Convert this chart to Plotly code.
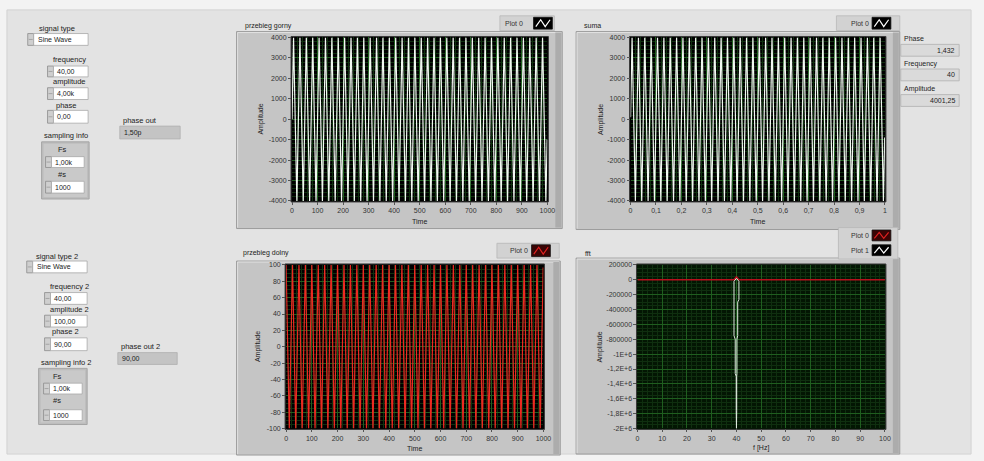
import plotly.graph_objects as go

# ---------------- data ----------------
# upper waveform "przebieg gorny" (turning points of the 40 Hz sine, sample index / amplitude)
top_time = [0, 6, 19, 31, 44, 56, 69, 81, 94, 106, 119, 131, 144, 156, 169, 181, 194,
            206, 219, 231, 244, 256, 269, 281, 294, 306, 319, 331, 344, 356, 369, 381, 394,
            406, 419, 431, 444, 456, 469, 481, 494, 506, 519, 531, 544, 556, 569, 581, 594,
            606, 619, 631, 644, 656, 669, 681, 694, 706, 719, 731, 744, 756, 769, 781, 794,
            806, 819, 831, 844, 856, 869, 881, 894, 906, 919, 931, 944, 956, 969, 981, 994, 999]
top_amplitude = [0,
                 4000, -4000, 4000, -4000, 4000, -4000, 4000, -4000, 4000, -4000,
                 4000, -4000, 4000, -4000, 4000, -4000, 4000, -4000, 4000, -4000,
                 4000, -4000, 4000, -4000, 4000, -4000, 4000, -4000, 4000, -4000,
                 4000, -4000, 4000, -4000, 4000, -4000, 4000, -4000, 4000, -4000,
                 4000, -4000, 4000, -4000, 4000, -4000, 4000, -4000, 4000, -4000,
                 4000, -4000, 4000, -4000, 4000, -4000, 4000, -4000, 4000, -4000,
                 4000, -4000, 4000, -4000, 4000, -4000, 4000, -4000, 4000, -4000,
                 4000, -4000, 4000, -4000, 4000, -4000, 4000, -4000, 4000, -4000,
                 -995]

# "suma" (time in seconds)
suma_time = [0, 0.006, 0.019, 0.031, 0.044, 0.056, 0.069, 0.081, 0.094, 0.106, 0.119, 0.131,
             0.144, 0.156, 0.169, 0.181, 0.194, 0.206, 0.219, 0.231, 0.244, 0.256, 0.269,
             0.281, 0.294, 0.306, 0.319, 0.331, 0.344, 0.356, 0.369, 0.381, 0.394, 0.406,
             0.419, 0.431, 0.444, 0.456, 0.469, 0.481, 0.494, 0.506, 0.519, 0.531, 0.544,
             0.556, 0.569, 0.581, 0.594, 0.606, 0.619, 0.631, 0.644, 0.656, 0.669, 0.681,
             0.694, 0.706, 0.719, 0.731, 0.744, 0.756, 0.769, 0.781, 0.794, 0.806, 0.819,
             0.831, 0.844, 0.856, 0.869, 0.881, 0.894, 0.906, 0.919, 0.931, 0.944, 0.956,
             0.969, 0.981, 0.994, 0.999]
suma_amplitude = [100,
                  4001, -4001, 4001, -4001, 4001, -4001, 4001, -4001, 4001, -4001,
                  4001, -4001, 4001, -4001, 4001, -4001, 4001, -4001, 4001, -4001,
                  4001, -4001, 4001, -4001, 4001, -4001, 4001, -4001, 4001, -4001,
                  4001, -4001, 4001, -4001, 4001, -4001, 4001, -4001, 4001, -4001,
                  4001, -4001, 4001, -4001, 4001, -4001, 4001, -4001, 4001, -4001,
                  4001, -4001, 4001, -4001, 4001, -4001, 4001, -4001, 4001, -4001,
                  4001, -4001, 4001, -4001, 4001, -4001, 4001, -4001, 4001, -4001,
                  4001, -4001, 4001, -4001, 4001, -4001, 4001, -4001, 4001, -4001,
                  -898]

# lower waveform "przebieg dolny"
bottom_time = [0, 12.5, 25, 37.5, 50, 62.5, 75, 87.5,
               100, 112.5, 125, 137.5, 150, 162.5, 175, 187.5,
               200, 212.5, 225, 237.5, 250, 262.5, 275, 287.5,
               300, 312.5, 325, 337.5, 350, 362.5, 375, 387.5,
               400, 412.5, 425, 437.5, 450, 462.5, 475, 487.5,
               500, 512.5, 525, 537.5, 550, 562.5, 575, 587.5,
               600, 612.5, 625, 637.5, 650, 662.5, 675, 687.5,
               700, 712.5, 725, 737.5, 750, 762.5, 775, 787.5,
               800, 812.5, 825, 837.5, 850, 862.5, 875, 887.5,
               900, 912.5, 925, 937.5, 950, 962.5, 975, 987.5, 999]
bottom_amplitude = [100, -100, 100, -100, 100, -100, 100, -100,
                    100, -100, 100, -100, 100, -100, 100, -100,
                    100, -100, 100, -100, 100, -100, 100, -100,
                    100, -100, 100, -100, 100, -100, 100, -100,
                    100, -100, 100, -100, 100, -100, 100, -100,
                    100, -100, 100, -100, 100, -100, 100, -100,
                    100, -100, 100, -100, 100, -100, 100, -100,
                    100, -100, 100, -100, 100, -100, 100, -100,
                    100, -100, 100, -100, 100, -100, 100, -100,
                    100, -100, 100, -100, 100, -100, 100, -100, 97]

# fft graph
fft_plot0_freq = [0, 39, 40, 41, 100]
fft_plot0_value = [0, 0, 40000, 0, 0]
fft_plot1_freq = [40.0, 39.0, 39.0, 39.5, 39.5, 39.9, 39.9, 40.0, 40.1, 40.1, 40.2, 40.2,
                  40.5, 40.5, 41.0, 41.0, 40.0]
fft_plot1_value = [20000, -20000, -750000, -800000, -1260000, -1300000, -1760000, -2000000,
                   -1760000, -1300000, -1260000, -800000, -750000, -300000, -264000, -20000, 20000]

# tick labels
wave_x_ticks = [0, 100, 200, 300, 400, 500, 600, 700, 800, 900, 1000]
wave_x_labels = ["0", "100", "200", "300", "400", "500", "600", "700", "800", "900", "1000"]
top_y_ticks = [4000, 3000, 2000, 1000, 0, -1000, -2000, -3000, -4000]
top_y_labels = ["4000", "3000", "2000", "1000", "0", "-1000", "-2000", "-3000", "-4000"]
suma_x_ticks = [0, 0.1, 0.2, 0.3, 0.4, 0.5, 0.6, 0.7, 0.8, 0.9, 1]
suma_x_labels = ["0", "0,1", "0,2", "0,3", "0,4", "0,5", "0,6", "0,7", "0,8", "0,9", "1"]
bottom_y_ticks = [100, 80, 60, 40, 20, 0, -20, -40, -60, -80, -100]
bottom_y_labels = ["100", "80", "60", "40", "20", "0", "-20", "-40", "-60", "-80", "-100"]
fft_x_ticks = [0, 10, 20, 30, 40, 50, 60, 70, 80, 90, 100]
fft_x_labels = ["0", "10", "20", "30", "40", "50", "60", "70", "80", "90", "100"]
fft_y_ticks = [200000, 0, -200000, -400000, -600000, -800000, -1000000, -1200000,
               -1400000, -1600000, -1800000, -2000000]
fft_y_labels = ["200000", "0", "-200000", "-400000", "-600000", "-800000", "-1E+6",
                "-1,2E+6", "-1,4E+6", "-1,6E+6", "-1,8E+6", "-2E+6"]

# ---------------- helpers ----------------
W, H = 984, 461
FONT = "Liberation Sans"


def fx(p):
    return p / W


def fy(p):
    return 1 - p / H


shapes = []
annotations = []


def rect(x0, y0, x1, y1, fill, line=None, lw=0):
    shapes.append(dict(type="rect", xref="paper", yref="paper", layer="below",
                       x0=fx(x0), x1=fx(x1), y0=fy(y1), y1=fy(y0),
                       fillcolor=fill, line=dict(color=line or fill, width=lw)))


def hline(x0, x1, y, color, lw=1):
    shapes.append(dict(type="line", xref="paper", yref="paper", layer="below",
                       x0=fx(x0), x1=fx(x1), y0=fy(y), y1=fy(y), line=dict(color=color, width=lw)))


def vline(x, y0, y1, color, lw=1):
    shapes.append(dict(type="line", xref="paper", yref="paper", layer="below",
                       x0=fx(x), x1=fx(x), y0=fy(y0), y1=fy(y1), line=dict(color=color, width=lw)))


def text(x, y, s, size=7.5, anchor="left", color="#222222", angle=0):
    annotations.append(dict(xref="paper", yref="paper", x=fx(x), y=fy(y), text=s,
                            showarrow=False, xanchor=anchor, yanchor="middle",
                            textangle=angle, font=dict(size=size, color=color, family=FONT)))


def spinner(x0, y0, x1, y1):
    rect(x0, y0, x1, y1, "#cfcfcf", "#8c8c8c", 0.8)
    hline(x0 + 1, x1 - 1, (y0 + y1) / 2, "#9a9a9a", 0.8)


def field(x0, y0, x1, y1, s, align="left"):
    rect(x0, y0, x1, y1, "#ffffff", "#a8a8a8", 0.8)
    if align == "left":
        text(x0 + 2, (y0 + y1) / 2, s, 7)
    else:
        text(x1 - 2, (y0 + y1) / 2, s, 7, anchor="right")


def control(x0, y0, x1, y1, s):
    spinner(x0 - 6, y0, x0, y1)
    field(x0, y0, x1, y1, s)


def indicator(x0, y0, x1, y1, s, fill="#c4c4c4", align="left"):
    rect(x0, y0, x1, y1, fill, "#b0b0b0", 0.8)
    if align == "left":
        text(x0 + 2, (y0 + y1) / 2, s, 7)
    else:
        text(x1 - 2, (y0 + y1) / 2, s, 7, anchor="right")


def icon(x0, y0, x1, y1, bg, color):
    rect(x0, y0, x1, y1, bg, "#111111", 0.8)
    w = x1 - x0
    pts = [(x0 + 0.12 * w, y1 - 2.5), (x0 + 0.38 * w, y0 + 2.5),
           (x0 + 0.62 * w, y1 - 2.5), (x0 + 0.88 * w, y0 + 2.5)]
    path = "M " + " L ".join(f"{fx(px):.5f},{fy(py):.5f}" for px, py in pts)
    shapes.append(dict(type="path", xref="paper", yref="paper", layer="below", path=path,
                       line=dict(color=color, width=1.2)))


def legend_row(x0, y0, x1, y1, label, bg, color):
    text(x0 + 3, (y0 + y1) / 2, label, 7, color="#333333")
    icon(x1 - 21, y0 + 1.5, x1 - 2, y1 - 1.5, bg, color)


def frame(x0, y0, x1, y1, px0, py0, px1, py1, plotbg):
    rect(x0, y0, x1, y1, "#c5c5c5", "#9c9c9c", 1)
    hline(x0 + 1, x1 - 1, y0 + 1, "#e2e2e2", 1)
    vline(x0 + 1, y0 + 1, y1 - 1, "#e0e0e0", 1)
    rect(x1 - 7, y0 + 1, x1 - 1, y1 - 1, "#acacac")
    rect(px0 - 1, py0 - 1, px1 + 1, py1 + 1, plotbg, "#3a3a3a", 1)


# ---------------- panel background ----------------
rect(5, 6, 979, 457, "#e3e3e3", "#d2d2d2", 1)

# ---------------- left controls (upper) ----------------
text(35, 25, "signal type")
spinner(26, 30, 32, 42)
field(32, 30, 87, 42, "Sine Wave")
text(87, 56, "frequency", anchor="right")
control(52, 63, 87, 74, "40,00")
text(87, 79, "amplitude", anchor="right")
control(52, 85, 87, 97, "4,00k")
text(65, 103, "phase", anchor="center")
control(52, 108, 87, 121, "0,00")
text(40, 134, "sampling info")
rect(40, 140, 88, 198, "#bdbdbd", "#a5a5a5", 1)
rect(42, 142, 86, 196, "#c9c9c9")
text(55, 148, "Fs")
control(50, 155, 83, 166, "1,00k")
text(55, 173, "#s")
control(50, 180, 83, 192, "1000")
text(120, 118, "phase out")
indicator(119, 124, 180, 137, "1,50p")

# ---------------- left controls (lower) ----------------
text(32, 256, "signal type 2")
spinner(25, 261, 31, 273)
field(31, 261, 86, 273, "Sine Wave")
text(90, 287, "frequency 2", anchor="right")
control(49, 293, 86, 305, "40,00")
text(90, 310, "amplitude 2", anchor="right")
control(49, 316, 86, 328, "100,00")
text(64, 333, "phase 2", anchor="center")
control(49, 339, 86, 352, "90,00")
text(37, 364, "sampling info 2")
rect(37, 370, 86, 427, "#bdbdbd", "#a5a5a5", 1)
rect(39, 372, 84, 425, "#c9c9c9")
text(50, 378, "Fs")
control(48, 385, 81, 396, "1,00k")
text(50, 403, "#s")
control(48, 412, 81, 423, "1000")
text(118, 348, "phase out 2")
indicator(117, 354, 177, 366, "90,00")

# ---------------- graph frames ----------------
A = (293, 34, 551, 200)
B = (635, 34, 892, 200)
C = (287, 265, 547, 431)
D = (642, 265, 892, 431)

frame(237, 28, 566, 228, *A, "#000000")
frame(580, 28, 907, 229, *B, "#000000")
frame(237, 261, 564, 458, *C, "#000000")
frame(580, 258, 907, 457, *D, "#031603")

# titles
text(243, 22, "przebieg gorny", 7)
text(586, 22, "suma", 7)
text(241, 253, "przebieg dolny", 7)
text(587, 253, "fft", 7)

# legends
rect(503, 12, 558, 27, "#d2d2d2", "#b8b8b8", 0.8)
legend_row(503, 12, 558, 27, "Plot 0", "#000000", "#ffffff")
rect(843, 12, 907, 27, "#d2d2d2", "#b8b8b8", 0.8)
legend_row(853, 12, 900, 27, "Plot 0", "#000000", "#ffffff")
rect(500, 243, 563, 258, "#d2d2d2", "#b8b8b8", 0.8)
legend_row(508, 243, 556, 258, "Plot 0", "#3a0505", "#e02020")
rect(845, 227, 905, 259, "#d2d2d2", "#b8b8b8", 0.8)
legend_row(853, 228, 900, 242, "Plot 0", "#3a0505", "#e02020")
legend_row(853, 243, 900, 257, "Plot 1", "#000000", "#ffffff")

# right indicators for suma
text(909, 35, "Phase", 7)
indicator(908, 41, 967, 53, "1,432", "#dadada", "right")
text(909, 61, "Frequency", 7)
indicator(908, 66, 967, 78, "40", "#dadada", "right")
text(909, 86, "Amplitude", 7)
indicator(908, 92, 967, 104, "4001,25", "#dadada", "right")

# axis titles
text(262, 117, "Amplitude", 7, anchor="center", angle=-90)
text(422, 221, "Time", 7, anchor="center")
text(605, 117, "Amplitude", 7, anchor="center", angle=-90)
text(763, 221, "Time", 7, anchor="center")
text(258, 348, "Amplitude", 7, anchor="center", angle=-90)
text(417, 451, "Time", 7, anchor="center")
text(604, 348, "Amplitude", 7, anchor="center", angle=-90)
text(767, 451, "f [Hz]", 7, anchor="center")

# ---------------- traces ----------------
fig = go.Figure()
fig.add_trace(go.Scatter(x=top_time, y=top_amplitude, mode="lines", xaxis="x", yaxis="y",
                         line=dict(color="#f2f8f2", width=1.2), hoverinfo="skip"))
fig.add_trace(go.Scatter(x=suma_time, y=suma_amplitude, mode="lines", xaxis="x2", yaxis="y2",
                         line=dict(color="#f2f8f2", width=1.2), hoverinfo="skip"))
fig.add_trace(go.Scatter(x=bottom_time, y=bottom_amplitude, mode="lines", xaxis="x3", yaxis="y3",
                         line=dict(color="#ec2a22", width=1.2), hoverinfo="skip"))
fig.add_trace(go.Scatter(x=fft_plot0_freq, y=fft_plot0_value, mode="lines", xaxis="x4", yaxis="y4",
                         line=dict(color="#b8101e", width=1.5), hoverinfo="skip"))
fig.add_trace(go.Scatter(x=fft_plot1_freq, y=fft_plot1_value, mode="lines", xaxis="x4", yaxis="y4",
                         line=dict(color="#dfeadf", width=1), hoverinfo="skip"))

MAJOR = "#1f5e1f"
MINOR = "#0f2f0f"


def xaxis(box, rng, ticks, labels, minor_dtick, anchor):
    x0, y0, x1, y1 = box
    return dict(domain=[fx(x0), fx(x1)], anchor=anchor, range=rng, tickmode="array",
                tickvals=ticks, ticktext=labels, ticks="outside", ticklen=3, tickcolor="#555555",
                tickfont=dict(size=7, color="#333333", family=FONT), showgrid=True,
                gridcolor=MAJOR, gridwidth=1, zeroline=False, showline=False, fixedrange=True,
                minor=dict(dtick=minor_dtick, tick0=0, showgrid=True, gridcolor=MINOR, ticks=""))


def yaxis(box, rng, ticks, labels, minor_dtick, anchor):
    x0, y0, x1, y1 = box
    return dict(domain=[fy(y1), fy(y0)], anchor=anchor, range=rng, tickmode="array",
                tickvals=ticks, ticktext=labels, ticks="outside", ticklen=3, tickcolor="#555555",
                tickfont=dict(size=7, color="#333333", family=FONT), showgrid=True,
                gridcolor=MAJOR, gridwidth=1, zeroline=False, showline=False, fixedrange=True,
                minor=dict(dtick=minor_dtick, tick0=0, showgrid=True, gridcolor=MINOR, ticks=""))


fig.update_layout(
    width=W, height=H, margin=dict(l=0, r=0, t=0, b=0),
    paper_bgcolor="#f3f3f3", plot_bgcolor="rgba(0,0,0,0)", showlegend=False,
    font=dict(family=FONT, size=7, color="#262626"),
    xaxis=xaxis(A, [0, 1000], wave_x_ticks, wave_x_labels, 20, "y"),
    yaxis=yaxis(A, [-4000, 4000], top_y_ticks, top_y_labels, 200, "x"),
    xaxis2=xaxis(B, [0, 1], suma_x_ticks, suma_x_labels, 0.02, "y2"),
    yaxis2=yaxis(B, [-4000, 4000], top_y_ticks, top_y_labels, 200, "x2"),
    xaxis3=xaxis(C, [0, 1000], wave_x_ticks, wave_x_labels, 20, "y3"),
    yaxis3=yaxis(C, [-100, 100], bottom_y_ticks, bottom_y_labels, 5, "x3"),
    xaxis4=xaxis(D, [0, 100], fft_x_ticks, fft_x_labels, 2, "y4"),
    yaxis4=yaxis(D, [-2000000, 200000], fft_y_ticks, fft_y_labels, 50000, "x4"),
    shapes=shapes, annotations=annotations,
)

fig.write_html("out.html", config={"displayModeBar": False, "staticPlot": True},
               post_script="document.body.style.margin='0';document.body.style.overflow='hidden';")
